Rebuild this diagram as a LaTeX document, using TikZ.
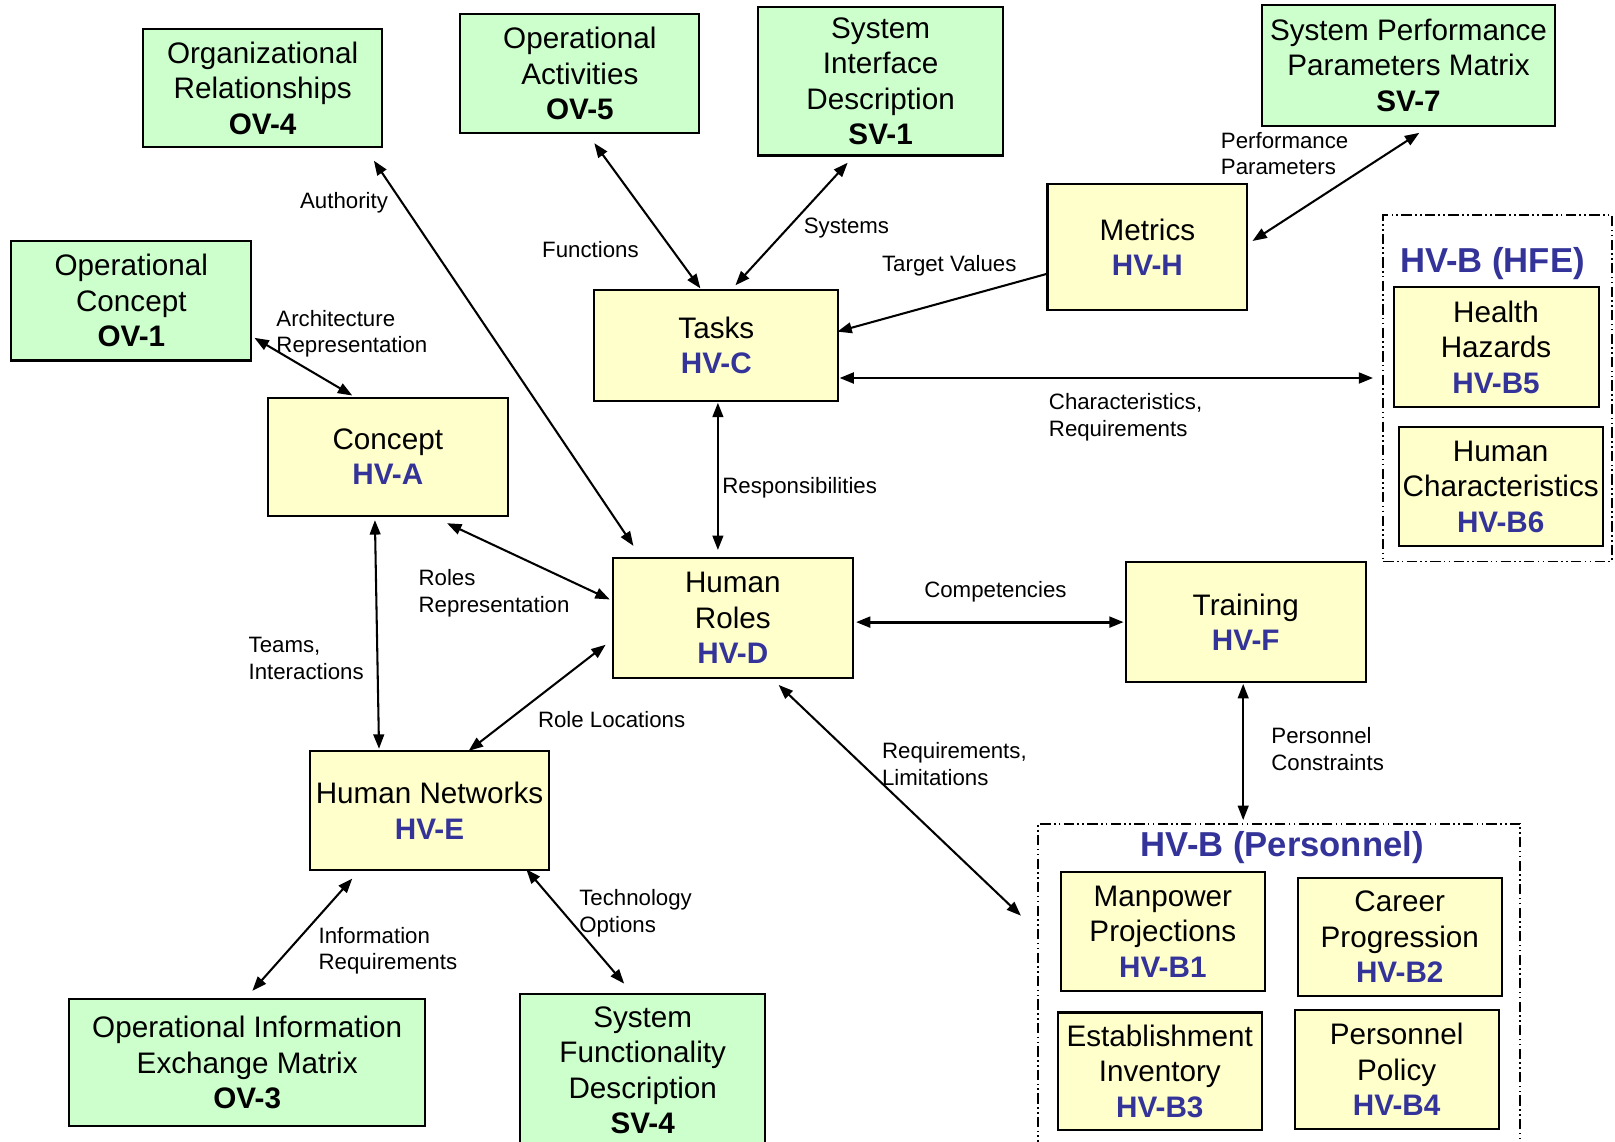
\documentclass[tikz,border=0pt]{standalone}
\usepackage{fontspec}
\setmainfont{Liberation Sans}
\usetikzlibrary{arrows.meta,calc}
\definecolor{ovgreen}{HTML}{CCFFCC}
\definecolor{hvyellow}{HTML}{FFFFCC}
\definecolor{hvblue}{HTML}{333399}
\newcommand\hvcode[1]{\textcolor{hvblue}{\textbf{#1}}}
\tikzset{
  box/.style={draw=black, line width=1pt, inner sep=0pt, align=center,
    font=\fontsize{14.4}{17.25}\selectfont},
  ovbox/.style={box, fill=ovgreen},
  hvbox/.style={box, fill=hvyellow},
  group/.style={draw=black, line width=0.8pt, inner sep=0pt,
    dash pattern=on 5pt off 1.6pt on 0.8pt off 1.6pt on 0.8pt off 1.6pt},
  grouptitle/.style={inner sep=0pt, text=hvblue, font=\fontsize{16.8}{20}\selectfont\bfseries},
  lbl/.style={inner sep=0pt, anchor=west, align=left, font=\fontsize{10.8}{13}\selectfont},
  link/.style={line width=1pt, {Triangle[length=7pt,width=5.2pt]}-{Triangle[length=7pt,width=5.2pt]}},
  onelink/.style={line width=1pt, -{Triangle[length=7pt,width=5.2pt]}},
  boldlink/.style={link, line width=1.4pt}
}
\begin{document}
\begin{tikzpicture}[x=0.5pt,y=-0.5pt]
\path[use as bounding box, fill=white] (0,0) rectangle (1568,1108);
\clip (0,0) rectangle (1568,1108);

% architecture views (green)
\node[ovbox, minimum width=116pt, minimum height=57.5pt] (ov4) at (255,85.5) {Organizational\\Relationships\\\textbf{OV-4}};
\node[ovbox, minimum width=116pt, minimum height=57.5pt] (ov5) at (563,71.5) {Operational\\Activities\\\textbf{OV-5}};
\node[ovbox, minimum width=119pt, minimum height=72pt] (sv1) at (855,79) {System\\Interface\\Description\\\textbf{SV-1}};
\node[ovbox, minimum width=142.5pt, minimum height=58.5pt] (sv7) at (1367.5,63.5) {System Performance\\Parameters Matrix\\\textbf{SV-7}};
\node[ovbox, minimum width=116.5pt, minimum height=58pt] (ov1) at (127.5,292) {Operational\\Concept\\\textbf{OV-1}};
\node[ovbox, minimum width=173pt, minimum height=61.5pt] (ov3) at (240,1031.5) {Operational Information\\Exchange Matrix\\\textbf{OV-3}};
\node[ovbox, minimum width=119pt, minimum height=74pt] (sv4) at (624,1039) {System\\Functionality\\Description\\\textbf{SV-4}};

% human views (yellow)
\node[hvbox, minimum width=118.5pt, minimum height=53.5pt] (hvc) at (695.5,335.5) {Tasks\\\hvcode{HV-C}};
\node[hvbox, minimum width=97pt, minimum height=61pt] (hvh) at (1114,240) {Metrics\\\hvcode{HV-H}};
\node[hvbox, minimum width=116.5pt, minimum height=57.5pt] (hva) at (376.5,443.5) {Concept\\\hvcode{HV-A}};
\node[hvbox, minimum width=116.5pt, minimum height=58pt] (hvd) at (711.5,600) {Human\\Roles\\\hvcode{HV-D}};
\node[hvbox, minimum width=116.5pt, minimum height=58pt] (hvf) at (1209.5,604) {Training\\\hvcode{HV-F}};
\node[hvbox, minimum width=116pt, minimum height=58pt] (hve) at (417,787) {Human Networks\\\hvcode{HV-E}};

% HFE group
\node[group, minimum width=111pt, minimum height=168pt] (hfe) at (1454,377) {};
\node[grouptitle] (hfetitle) at (1449,256) {HV-B (HFE)};
\node[hvbox, minimum width=99.5pt, minimum height=58pt] (b5) at (1452.5,337) {Health\\Hazards\\\hvcode{HV-B5}};
\node[hvbox, minimum width=99pt, minimum height=57.5pt] (b6) at (1457,472.5) {Human\\Characteristics\\\hvcode{HV-B6}};

% Personnel group
\node[group, minimum width=234pt, minimum height=165pt] (pers) at (1242,965) {};
\node[grouptitle] (perstitle) at (1245,823) {HV-B (Personnel)};
\node[hvbox, minimum width=99pt, minimum height=57.5pt] (b1) at (1129,904.5) {Manpower\\Projections\\\hvcode{HV-B1}};
\node[hvbox, minimum width=99pt, minimum height=57.5pt] (b2) at (1359,909.5) {Career\\Progression\\\hvcode{HV-B2}};
\node[hvbox, minimum width=99pt, minimum height=57pt] (b3) at (1126,1040) {Establishment\\Inventory\\\hvcode{HV-B3}};
\node[hvbox, minimum width=99pt, minimum height=57.5pt] (b4) at (1356,1038.5) {Personnel\\Policy\\\hvcode{HV-B4}};

% connectors
\draw[link] ($(ov4.south east)+(-9,12)$) -- ($(hvd.north west)+(21,-11)$);
\draw[link] ($(ov5.south)+(14,9)$) -- ($(hvc.north)+(-15.5,-1)$);
\draw[link] ($(sv1.south)+(-32,6)$) -- ($(hvc.north)+(18.5,-4)$);
\draw[link] ($(sv7.south)+(10.5,6)$) -- ($(hvh.east)+(4,-6)$);
\draw[onelink] ($(hvh.west)+(0,26)$) -- ($(hvc.east)+(-2,-13.5)$);
\draw[boldlink] ($(hvc.east)+(0,31.5)$) -- ($(hfe.west)+(-9,-10)$);
\draw[link] ($(ov1.south east)+(2,-23)$) -- ($(hva.north)+(-34.5,-1)$);
\draw[link] ($(hvc.south)+(1.5,1)$) -- ($(hvd.north)+(-14.5,-7)$);
\draw[link] ($(hva.south east)+(-60,6)$) -- ($(hvd.west)+(-2,-18)$);
\draw[link] ($(hva.south)+(-12.5,3)$) -- ($(hve.north)+(-49,-1)$);
\draw[link] ($(hvd.west)+(-6,26)$) -- ($(hve.north)+(38,1)$);
\draw[boldlink] ($(hvd.east)+(2,4)$) -- ($(hvf.west)+(-1,0)$);
\draw[link] ($(hvd.south)+(44.5,6)$) -- ($(pers.west)+(-16,-76)$);
\draw[link] ($(hvf.south)+(-2.5,1)$) -- ($(pers.north)+(-35,-3)$);
\draw[link] ($(hve.south)+(-75,7)$) -- ($(ov3.north)+(5,-7)$);
\draw[link] ($(hve.south east)+(-23,-2)$) -- ($(sv4.north)+(-18,-9)$);

% connector labels
\node[lbl] (lauth) at (291,197) {Authority};
\node[lbl] (lfunc) at (526,242) {Functions};
\node[lbl] (lsys) at (780,221) {Systems};
\node[lbl] (lperf) at (1185,149) {Performance\\Parameters};
\node[lbl] (ltarget) at (856,258) {Target Values};
\node[lbl] (lchar) at (1018,405) {Characteristics,\\Requirements};
\node[lbl] (larch) at (268,324) {Architecture\\Representation};
\node[lbl] (lresp) at (701,474) {Responsibilities};
\node[lbl] (lroles) at (406,576) {Roles\\Representation};
\node[lbl] (lteams) at (241,639) {Teams,\\Interactions};
\node[lbl] (lloc) at (522,699) {Role Locations};
\node[lbl] (lcomp) at (897,575) {Competencies};
\node[lbl] (lreq) at (856,742) {Requirements,\\Limitations};
\node[lbl] (lpers) at (1234,727) {Personnel\\Constraints};
\node[lbl] (linfo) at (309,923) {Information\\Requirements};
\node[lbl] (ltech) at (562,887) {Technology\\Options};
\end{tikzpicture}
\end{document}
